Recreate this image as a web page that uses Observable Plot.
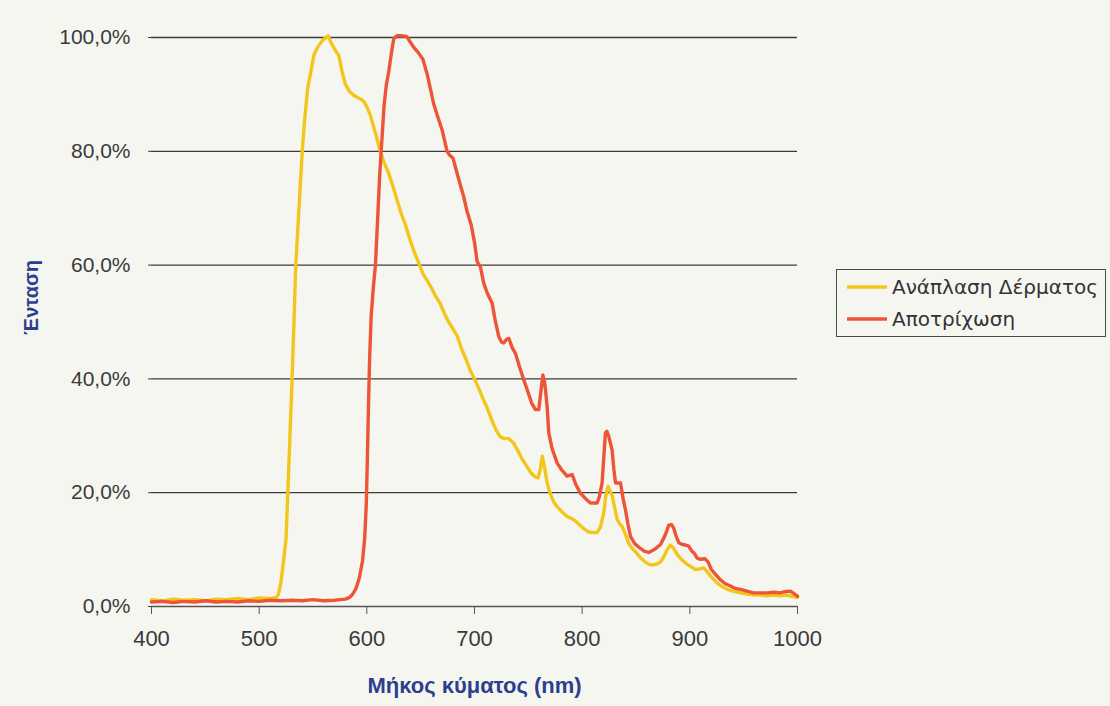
<!DOCTYPE html>
<html>
<head>
<meta charset="utf-8">
<script src="https://cdn.jsdelivr.net/npm/d3@7"></script>
<script src="https://cdn.jsdelivr.net/npm/@observablehq/plot@0.6"></script>
<style>
  html, body { margin: 0; padding: 0; background: #f6f6f1; }
  #wrap { position: relative; width: 1110px; height: 706px; overflow: hidden; }
  #legend {
    position: absolute; left: 836px; top: 269px; width: 268px; height: 66px;
    border: 1.5px solid #4a4a4a; box-sizing: content-box;
    font-family: "DejaVu Sans", sans-serif; font-size: 20px; color: #333;
  }
  .item { position: absolute; left: 10px; display: flex; align-items: center; white-space: nowrap; }
  .item svg { margin-right: 5px; }
</style>
</head>
<body>
<div id="wrap"><div id="legend"></div></div>
<script>
// Series 1: Ανάπλαση Δέρματος (yellow)
const skinNm = [400,410,420,430,440,450,460,470,480,490,500,510,516,518,520,522,525,528,530,532,534,537,540,542,545,548,551,555,559,564,567,570,574,577,580,584,588,591,594,597,600,603,606,609,612,616,620,624,628,632,636,640,644,648,652,656,660,664,668,672,676,680,684,688,692,696,700,704,708,712,716,720,724,728,732,736,740,744,748,752,756,759,761,763,765,767.5,770,774,778,782,786,790,794,798,802,806,810,814,817,820,822,824,826,828,830,832.5,835,837,840,843,846,850,854,858,862,866,870,873,876,879,882,885,888,892,897,901,905,909,913,917,921,925,930,935,940,947,953,960,966,972,978,984,990,995,1000];
const skinVal = [1.2,1.0,1.3,1.1,1.2,1.0,1.3,1.2,1.4,1.2,1.5,1.4,1.6,2.2,4,7,12,27,37,48,60,70,80,85,91,94,97,98.5,99.5,100.3,99,98,96.8,94,91.8,90.5,89.8,89.5,89.2,88.8,87.8,86.5,84.5,82.5,80.3,78,76.3,74,71.5,69,67,64.5,62.3,60.5,58.5,57.3,56,54.5,53.3,51.5,50,48.8,47.5,45.3,43.5,41.5,40,38.3,36.5,34.8,32.8,31,29.8,29.5,29.5,28.8,27.5,26,24.8,23.6,22.8,22.6,24,26.4,24.5,21.7,20,18.2,17.3,16.5,15.8,15.5,15,14.3,13.6,13.1,13,13,14,16.4,19.5,21.1,20.3,19.4,17.5,15.3,14.5,14.1,12.8,11.2,10.3,9.5,8.6,7.9,7.4,7.3,7.5,7.9,8.8,10,10.8,10.2,9.2,8.3,7.5,7,6.5,6.6,6.8,5.9,5,4.2,3.5,3,2.7,2.4,2.2,2.0,2.0,1.9,2.0,1.9,2.0,1.8,1.6];

// Series 2: Αποτρίχωση (red)
const hairNm = [400,410,420,430,440,450,460,470,480,490,500,510,520,530,540,550,560,570,575,580,584,587,590,593,596,598,599.5,600.5,601.5,602.5,604,606,608,610,612,614,616,618,620.5,623,625,628,632,637,640,643.5,648,652,656,659,662,666,670,674.5,677,680,684,687,690,693,697,700,702.5,705.5,708.6,712,716.4,719,722.6,725,727.2,730,732,735,738,742,745.8,750,753,756.6,759.7,761.5,763.5,765,766,767.5,769,772,776.8,781,786,790.7,794,798.4,803,807.7,813.9,816,818.5,820,821.6,823,824.7,827.8,829.5,831,835.6,838,840.2,842.5,844.9,849,854.2,858,861.8,867,872.8,877,880.5,883,885,887,889.8,893,896,899,902,904,906.8,910,914,917,920,924,928.4,933,937.7,942,947,953,959,965,971.7,978,984,988,993.4,997,1000];
const hairVal = [0.8,0.9,0.7,0.9,0.8,1.0,0.8,0.9,0.8,1.0,0.9,1.1,1.0,1.1,1.0,1.2,1.0,1.1,1.2,1.3,1.6,2.2,3.2,5,8,12,18,26,35,43,51,56,60,68,76,82,88,91.5,94.2,97.5,99.8,100.3,100.3,100.2,99.3,98.3,97.3,96.2,93.6,91,88.4,86,83.7,80,79.3,78.8,76,74,72,69.5,67,64,60.6,59.7,56.8,55,53.3,50.5,47.4,46.5,46.3,47,47.1,45.5,44.5,42,39.8,37.5,35.8,34.6,34.6,37.5,40.7,39.5,38,35,30.5,27.8,25.2,24,22.9,23.2,21.5,19.9,19,18.2,18.2,19.3,21.7,26,30.5,30.8,29.9,27.5,24,21.7,21.7,19,17,14.5,12.3,11,10.2,9.7,9.5,10,10.9,12.5,14.3,14.4,13.8,12.5,11.2,10.9,10.8,10.6,9.7,9.4,8.5,8.3,8.4,7.8,6.5,5.6,4.7,4,3.6,3.2,3,2.7,2.4,2.4,2.4,2.5,2.4,2.6,2.7,2.2,1.8];

const seriesNames = ["Ανάπλαση Δέρματος", "Αποτρίχωση"];
const seriesColors = ["#f3c61c", "#ee5436"];
const xTicks = [400, 500, 600, 700, 800, 900, 1000];
const yTicks = [0, 20, 40, 60, 80, 100];
const xLabel = "Μήκος κύματος (nm)";
const yLabel = "Ένταση";

const skin = skinNm.map((x, i) => ({x, y: skinVal[i], s: seriesNames[0]}));
const hair = hairNm.map((x, i) => ({x, y: hairVal[i], s: seriesNames[1]}));

const fmtY = d => d.toFixed(1).replace(".", ",") + "%";
const fmtX = d => String(d);

const chart = Plot.plot({
  width: 1110,
  height: 706,
  marginLeft: 151,
  marginRight: 313,
  marginTop: 37,
  marginBottom: 100,
  style: {background: "transparent", fontFamily: "'Liberation Sans', Arial, sans-serif", color: "#3a3a3a"},
  x: {domain: [400, 1000]},
  y: {domain: [0, 100]},
  marks: [
    Plot.ruleY(yTicks.filter(d => d > 0), {stroke: "#3c3c3c", strokeWidth: 1.3}),
    Plot.axisY({ticks: yTicks, tickFormat: fmtY, tickSize: 3, tickPadding: 18, fontSize: 21, label: null, stroke: "#3c3c3c"}),
    Plot.axisX({ticks: xTicks, tickFormat: fmtX, tickSize: 8, tickPadding: 16, fontSize: 22, label: null, stroke: "#555"}),
    Plot.ruleY([0], {stroke: "#555", strokeWidth: 1.5}),
    Plot.line(skin, {x: "x", y: "y", stroke: seriesColors[0], strokeWidth: 3.4}),
    Plot.line(hair, {x: "x", y: "y", stroke: seriesColors[1], strokeWidth: 3.4}),
    Plot.text([xLabel], {frameAnchor: "bottom", dy: 79, text: d => d, fontSize: 22, fontWeight: "bold", fill: "#2c3f8e", lineAnchor: "middle", textAnchor: "middle"}),
    Plot.text([yLabel], {frameAnchor: "left", dx: -120, dy: -24.5, rotate: -90, text: d => d, fontSize: 20, fontWeight: "bold", fill: "#2c3f8e", lineAnchor: "middle", textAnchor: "middle"})
  ]
});
document.getElementById("wrap").prepend(chart);

const legend = document.getElementById("legend");
seriesNames.forEach((name, i) => {
  const item = document.createElement("div");
  item.className = "item";
  item.style.top = (i === 0 ? 5 : 37) + "px";
  item.innerHTML = `<svg width="40" height="8"><line x1="0" y1="4" x2="40" y2="4" stroke="${seriesColors[i]}" stroke-width="3.5"/></svg><span>${name}</span>`;
  legend.appendChild(item);
});
</script>
</body>
</html>
